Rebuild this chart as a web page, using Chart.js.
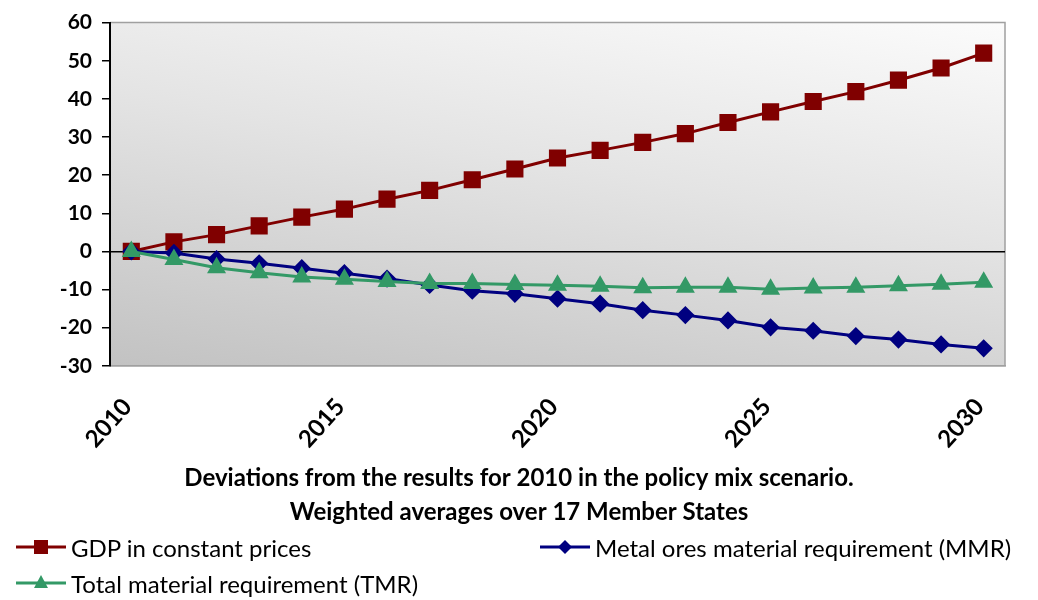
<!DOCTYPE html>
<html>
<head>
<meta charset="utf-8">
<script src="https://cdn.jsdelivr.net/npm/chart.js@4"></script>
<style>
  body { margin: 0; background: #fff; }
  #wrap { position: relative; width: 1038px; height: 600px; }
  #legende { position: absolute; left: 0; top: 528px; width: 1038px; height: 72px;
             font-family: Lato, "Open Sans", sans-serif; font-size: 24px; color: #000; }
  .item { position: absolute; display: flex; align-items: center; white-space: nowrap; }
  .item svg { margin-right: 5px; }
</style>
</head>
<body>
<div id="wrap">
  <canvas id="graphique" width="1038" height="600"></canvas>
  <div id="legende"></div>
</div>
<script>
// Données
const annees = [2010, 2011, 2012, 2013, 2014, 2015, 2016, 2017, 2018, 2019, 2020,
                2021, 2022, 2023, 2024, 2025, 2026, 2027, 2028, 2029, 2030];
const pib = [0, 2.5, 4.4, 6.7, 9.0, 11.1, 13.7, 16.0, 18.8, 21.6, 24.5,
             26.5, 28.6, 30.9, 33.8, 36.6, 39.3, 41.9, 44.9, 48.1, 52.0];
const mmr = [0, -0.4, -2.0, -3.1, -4.4, -5.7, -7.1, -8.8, -10.3, -11.1, -12.4,
             -13.7, -15.4, -16.7, -18.1, -19.9, -20.8, -22.2, -23.1, -24.4, -25.4];
const tmr = [0, -2.1, -4.3, -5.6, -6.7, -7.3, -7.9, -8.4, -8.4, -8.7, -8.9,
             -9.1, -9.5, -9.4, -9.4, -9.9, -9.6, -9.4, -9.0, -8.6, -8.1];
const titreLignes = ['Deviations from the results for 2010 in the policy mix scenario.',
                     'Weighted averages over 17 Member States'];
const nomsSeries = ['GDP in constant prices', 'Metal ores material requirement (MMR)',
                    'Total material requirement (TMR)'];

const police = 'Lato, "Open Sans", sans-serif';

// Fond dégradé + cadre gris de la zone de tracé
const fondZone = {
    id: 'fondZone',
    beforeDraw(chart) {
        const { ctx, chartArea: a } = chart;
        const g = ctx.createLinearGradient(a.left, a.bottom, a.left + 83, a.bottom - 488);
        g.addColorStop(0, '#c2c2c2');
        g.addColorStop(0.55, '#e4e4e4');
        g.addColorStop(1, '#fcfcfc');
        ctx.save();
        ctx.fillStyle = g;
        ctx.fillRect(a.left, a.top, a.right - a.left, a.bottom - a.top);
        ctx.strokeStyle = '#a0a0a0';
        ctx.lineWidth = 1.5;
        ctx.beginPath();
        ctx.moveTo(a.left, a.top);
        ctx.lineTo(a.right, a.top);
        ctx.lineTo(a.right, a.bottom);
        ctx.lineTo(a.left, a.bottom);
        ctx.stroke();
        ctx.restore();
    }
};

const chart = new Chart(document.getElementById('graphique'), {
    type: 'line',
    data: {
        labels: annees,
        datasets: [
            { label: nomsSeries[0], data: pib, borderColor: '#800000', backgroundColor: '#800000',
              pointStyle: 'rect', pointRadius: 10, borderWidth: 3, order: 2 },
            { label: nomsSeries[1], data: mmr, borderColor: '#000080', backgroundColor: '#000080',
              pointStyle: 'rectRot', pointRadius: 7, borderWidth: 3, order: 1 },
            { label: nomsSeries[2], data: tmr, borderColor: '#339966', backgroundColor: '#339966',
              pointStyle: 'triangle', pointRadius: 8, borderWidth: 3, order: 0 }
        ]
    },
    options: {
        responsive: false,
        animation: false,
        layout: { padding: { left: 33, right: 33, top: 16, bottom: 71 } },
        scales: {
            x: {
                offset: true,
                afterFit: s => { s.height = 95; },
                grid: { display: false },
                border: { color: '#a0a0a0', width: 1.5 },
                ticks: {
                    autoSkip: false,
                    minRotation: 48,
                    maxRotation: 48,
                    padding: 19,
                    labelOffset: -4,
                    color: '#000',
                    font: { family: police, size: 24, weight: 'bold' },
                    callback: function (v, i) { return i % 5 === 0 ? String(annees[i]) : ''; }
                }
            },
            y: {
                min: -30,
                max: 60,
                afterFit: s => { s.width = 77; },
                ticks: {
                    stepSize: 10,
                    color: '#000',
                    padding: 10,
                    font: { family: police, size: 21, weight: 'bold' }
                },
                border: { color: '#000', width: 2 },
                grid: {
                    drawOnChartArea: true,
                    tickLength: 8,
                    tickColor: '#000',
                    color: c => c.tick && c.tick.value === 0 ? '#000' : 'rgba(0,0,0,0)',
                    lineWidth: 1.5
                }
            }
        },
        plugins: {
            legend: { display: false },
            tooltip: { enabled: false },
            title: {
                display: true,
                position: 'bottom',
                text: titreLignes,
                color: '#000',
                font: { family: police, size: 24, weight: 'bold', lineHeight: 1.42 },
                padding: { top: 0, bottom: 0 }
            }
        }
    },
    plugins: [fondZone]
});

// Légende HTML sur deux colonnes
const positions = [[16, 19], [540, 19], [16, 55]];
const legende = document.getElementById('legende');
chart.data.datasets.forEach((ds, i) => {
    const div = document.createElement('div');
    div.className = 'item';
    div.style.left = positions[i][0] + 'px';
    div.style.top = (positions[i][1] - 15) + 'px';
    let marque = '';
    if (ds.pointStyle === 'rect') marque = '<rect x="18" y="8" width="14" height="14" fill="' + ds.borderColor + '"/>';
    if (ds.pointStyle === 'rectRot') marque = '<polygon points="25,8 32,15 25,22 18,15" fill="' + ds.borderColor + '"/>';
    if (ds.pointStyle === 'triangle') marque = '<polygon points="25,7 32,20 18,20" fill="' + ds.borderColor + '"/>';
    div.innerHTML = '<svg width="50" height="30"><line x1="0" y1="15" x2="50" y2="15" stroke="' +
        ds.borderColor + '" stroke-width="3"/>' + marque + '</svg><span>' + ds.label + '</span>';
    legende.appendChild(div);
});
</script>
</body>
</html>
